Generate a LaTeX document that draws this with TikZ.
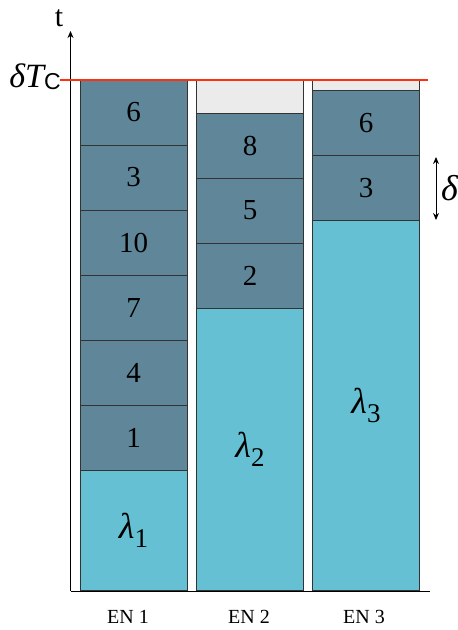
\documentclass[tikz,border=0pt]{standalone}
\usepackage{fontspec}
\setmainfont{Liberation Serif}
\newfontfamily\sansf{Liberation Sans}
\usetikzlibrary{arrows.meta}
\definecolor{dkblk}{HTML}{5F8799}
\definecolor{ltblk}{HTML}{64C0D2}
\definecolor{emptyblk}{HTML}{EBEBEB}
\definecolor{redline}{HTML}{FF3010}
\tikzset{
  blk/.style={rectangle, draw=black!80, line width=0.7pt, inner sep=0pt, minimum width=107pt,
    font=\fontsize{29}{29}\selectfont},
  task/.style={blk, fill=dkblk, minimum height=65pt},
  lam/.style={blk, fill=ltblk, font=\fontsize{36}{36}\selectfont\itshape},
  idle/.style={blk, fill=emptyblk},
  enlab/.style={font=\fontsize{20}{20}\selectfont},
  axisline/.style={line width=1pt, black},
  tipstyle/.tip={Stealth[length=7pt,width=6pt]},
}
\newcommand{\lamsub}[1]{λ\raisebox{-9pt}{\upshape\fontsize{27}{27}\selectfont #1}}
\begin{document}
\begin{tikzpicture}[x=1pt,y=-1pt]
\useasboundingbox (0,0) rectangle (458,630);
% column 1
\node[task] (a6) at (133.5,112.5) {6};
\node[task] (a3) at (133.5,177.5) {3};
\node[task] (a10) at (133.5,242.5) {10};
\node[task] (a7) at (133.5,307.5) {7};
\node[task] (a4) at (133.5,372.5) {4};
\node[task] (a1) at (133.5,437.5) {1};
\node[lam, minimum height=120pt] (al) at (133.5,530) {\lamsub{1}};
% column 2
\node[idle, minimum height=33pt] (bi) at (250,96.5) {};
\node[task] (b8) at (250,145.5) {8};
\node[task] (b5) at (250,210.5) {5};
\node[task] (b2) at (250,275.5) {2};
\node[lam, minimum height=282pt] (bl) at (250,449) {\lamsub{2}};
% column 3
\node[idle, minimum height=10pt] (ci) at (366,85) {};
\node[task] (c6) at (366,123) {6};
\node[task] (c3) at (366,188) {3};
\node[lam, minimum height=370pt] (cl) at (366,405) {\lamsub{3}};
% axes
\coordinate (O) at (70.5,591);
\coordinate (tip) at (70.5,31);
\coordinate (xend) at (430,591);
\draw[axisline,-tipstyle] (O) -- (tip);
\draw[axisline] (O) -- (xend);
\node[font=\fontsize{30}{30}\selectfont] (tlab) at (59,18) {t};
% deadline
\coordinate (r1) at (60,80);
\coordinate (r2) at (428,80);
\draw[redline, line width=1.6pt] (r1) -- (r2);
\node[font=\fontsize{34}{34}\selectfont, inner sep=0pt] (dtc) at (35,77) {\itshape δT\upshape\raisebox{-2pt}{\sansf\fontsize{23}{23}\selectfont C}};
% delta arrow
\coordinate (d1) at (436,157);
\coordinate (d2) at (436,220);
\draw[line width=1pt,tipstyle-tipstyle] (d1) -- (d2);
\node[font=\fontsize{36}{36}\selectfont\itshape, anchor=west, inner sep=0pt] (dl) at (441,188) {δ};
% labels
\node[enlab] (en1) at (128,617) {EN 1};
\node[enlab] (en2) at (249,617) {EN 2};
\node[enlab] (en3) at (364,617) {EN 3};
\end{tikzpicture}
\end{document}
